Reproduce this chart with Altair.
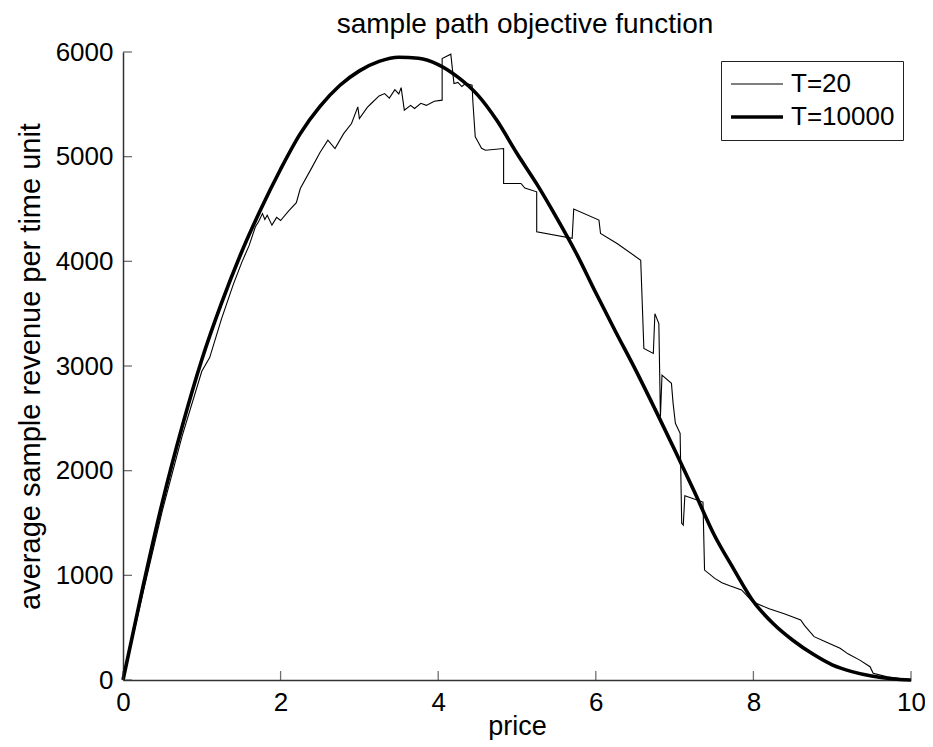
import altair as alt
import pandas as pd

# ---- data ----
price_T10000 = [0, 0.25, 0.5, 0.75, 1.0, 1.25, 1.5, 1.75, 2.0, 2.25, 2.5, 2.75, 3.0, 3.25,
                3.5, 3.75, 4.0, 4.25, 4.5, 4.75, 5.0, 5.25, 5.5, 5.75, 6.0, 6.25, 6.5, 6.75,
                7.0, 7.25, 7.5, 7.75, 8.0, 8.25, 8.5, 8.75, 9.0, 9.25, 9.5, 9.75, 10.0]
rev_T10000 = [0, 880, 1700, 2420, 3060, 3600, 4080, 4500, 4880, 5220, 5480, 5680, 5820, 5910,
              5950, 5940, 5880, 5760, 5590, 5340, 5030, 4740, 4420, 4080, 3700, 3330, 2970, 2590,
              2200, 1800, 1390, 1060, 750, 540, 380, 250, 145, 80, 38, 12, 0]

price_T20 = [0, 0.25, 0.5, 0.75, 1.0, 1.1, 1.25, 1.4, 1.51, 1.6, 1.68, 1.72, 1.77, 1.8, 1.83,
             1.89, 1.95, 2.0, 2.1, 2.2, 2.25, 2.4, 2.5, 2.6, 2.69, 2.8, 2.9, 2.98, 3.0, 3.1,
             3.15, 3.25, 3.32, 3.38, 3.45, 3.5, 3.53, 3.57, 3.65, 3.7, 3.78, 3.85, 3.95, 4.05,
             4.05, 4.16, 4.20, 4.25, 4.3, 4.35, 4.43, 4.44, 4.47, 4.5, 4.55, 4.60, 4.83, 4.83,
             5.05, 5.10, 5.25, 5.25, 5.70, 5.72, 6.04, 6.06, 6.27, 6.57, 6.61, 6.73, 6.75, 6.80,
             6.82, 6.84, 6.96, 6.98, 7.01, 7.07, 7.09, 7.11, 7.13, 7.36, 7.38, 7.51, 7.6, 7.7,
             7.85, 7.99, 8.2, 8.4, 8.6, 8.65, 8.77, 8.9, 9.10, 9.2, 9.35, 9.48, 9.52, 9.7, 10.0]
rev_T20 = [0, 820, 1620, 2330, 2950, 3080, 3450, 3780, 3995, 4150, 4330, 4378, 4457, 4400, 4440,
           4346, 4420, 4390, 4480, 4560, 4696, 4900, 5040, 5158, 5078, 5220, 5317, 5476, 5364, 5470,
           5508, 5580, 5603, 5560, 5640, 5600, 5660, 5444, 5490, 5460, 5510, 5490, 5530, 5540,
           5938, 5979, 5699, 5710, 5670, 5700, 5683, 5524, 5189, 5150, 5080, 5062, 5078, 4744,
           4744, 4700, 4664, 4282, 4220, 4500, 4394, 4266, 4171, 4011, 3168, 3120, 3500, 3405,
           2515, 2913, 2834, 2650, 2452, 2357, 1497, 1480, 1760, 1700, 1050, 971, 930, 900,
           860, 748, 680, 630, 573, 520, 414, 370, 303, 250, 190, 127, 64, 30, 0]

x_ticks = [0, 2, 4, 6, 8, 10]
y_ticks = [0, 1000, 2000, 3000, 4000, 5000, 6000]
series_names = ["T=20", "T=10000"]

df20 = pd.DataFrame({"price": price_T20, "revenue": rev_T20,
                     "series": "T=20", "idx": list(range(len(price_T20)))})
df10k = pd.DataFrame({"price": price_T10000, "revenue": rev_T10000,
                      "series": "T=10000", "idx": list(range(len(price_T10000)))})

FONT = "Liberation Sans"
W = 788
H = 628
TICK = 9

xscale = alt.Scale(domain=[0, 10], nice=False, zero=False)
yscale = alt.Scale(domain=[0, 6000], nice=False)
wscale = alt.Scale(domain=series_names, range=[1.1, 3.6])

xaxis = alt.Axis(values=x_ticks, title="price", ticks=False, grid=False, format="d",
                 domainColor="#333333", domainWidth=1.5, labelFont=FONT,
                 labelFontSize=26, labelColor="black", labelPadding=9,
                 titleFont=FONT, titleFontSize=27, titleFontWeight="normal",
                 titleColor="black", titlePadding=-2, labelFlush=False)
yaxis = alt.Axis(values=y_ticks, title="average sample revenue per time unit", format="d",
                 ticks=False, grid=False, domainColor="#333333", domainWidth=1.5,
                 labelFont=FONT, labelFontSize=26, labelColor="black", labelPadding=10,
                 titleFont=FONT, titleFontSize=29, titleFontWeight="normal",
                 titleColor="black", titlePadding=10, labelFlush=False)
legend = alt.Legend(title=None, orient="none", legendX=598, legendY=9,
                    fillColor="white", strokeColor="#222222",
                    padding=8, labelFont=FONT, labelFontSize=26,
                    labelColor="black", symbolType="stroke",
                    symbolSize=2704, symbolStrokeColor="black",
                    labelOffset=6, rowPadding=3, clipHeight=30)

line20 = alt.Chart(df20).mark_line(color="black", strokeJoin="miter").encode(
    x=alt.X("price:Q", scale=xscale, axis=xaxis),
    y=alt.Y("revenue:Q", scale=yscale, axis=yaxis),
    strokeWidth=alt.StrokeWidth("series:N", scale=wscale, legend=legend),
    order="idx:Q",
)
line10k = alt.Chart(df10k).mark_line(color="black", interpolate="monotone").encode(
    x=alt.X("price:Q", scale=xscale, axis=xaxis),
    y=alt.Y("revenue:Q", scale=yscale, axis=yaxis),
    strokeWidth=alt.StrokeWidth("series:N", scale=wscale, legend=legend),
    order="idx:Q",
)

tick_df_x = pd.DataFrame({"tx": x_ticks})
tick_df_y = pd.DataFrame({"ty": y_ticks})

# inward tick marks (MATLAB style)
xticks = alt.Chart(tick_df_x).mark_tick(
    color="#333333", thickness=1.3, size=TICK, orient="vertical", yOffset=-TICK / 2
).encode(
    x=alt.X("tx:Q", scale=xscale, axis=xaxis),
    y=alt.YDatum(0, scale=yscale, axis=yaxis),
)
yticks = alt.Chart(tick_df_y).mark_tick(
    color="#333333", thickness=1.3, size=TICK, orient="horizontal", xOffset=TICK / 2
).encode(
    y=alt.Y("ty:Q", scale=yscale, axis=yaxis),
    x=alt.XDatum(0, scale=xscale, axis=xaxis),
)

chart = alt.layer(line20, line10k, xticks, yticks).properties(
    width=W, height=H, background="white",
    title=alt.TitleParams("sample path objective function", font=FONT, fontSize=28,
                          fontWeight="normal", color="black", offset=0, dx=8),
    autosize=alt.AutoSizeParams(type="none"),
    padding={"left": 115, "top": 44, "right": 14, "bottom": 60},
).configure_view(stroke="transparent", strokeWidth=0)

chart.save("out.html", embed_options={"renderer": "svg", "actions": False})
